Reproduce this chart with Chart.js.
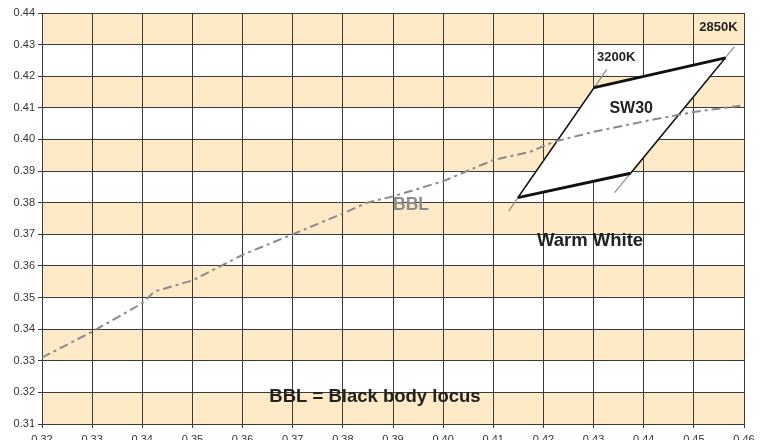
<!DOCTYPE html>
<html>
<head>
<meta charset="utf-8">
<script src="https://cdn.jsdelivr.net/npm/chart.js@4.4.1/dist/chart.umd.min.js"></script>
<style>
  html, body { margin: 0; padding: 0; background: #fff; overflow: hidden; }
  canvas { display: block; }
</style>
</head>
<body>
<canvas id="chart" width="760" height="450"></canvas>
<script>
// axis ticks
const xTicks = [0.32, 0.33, 0.34, 0.35, 0.36, 0.37, 0.38, 0.39, 0.40, 0.41, 0.42, 0.43, 0.44, 0.45, 0.46];
const yTicks = [0.31, 0.32, 0.33, 0.34, 0.35, 0.36, 0.37, 0.38, 0.39, 0.40, 0.41, 0.42, 0.43, 0.44];

// black body locus
const bblX = [0.320, 0.330, 0.340, 0.3424, 0.350, 0.360, 0.370, 0.380, 0.3848, 0.390, 0.400, 0.410, 0.4174, 0.4221, 0.430, 0.440, 0.450, 0.460];
const bblY = [0.3310, 0.3392, 0.3482, 0.3519, 0.3554, 0.3635, 0.3700, 0.3766, 0.3800, 0.3820, 0.3868, 0.3935, 0.3961, 0.3993, 0.4024, 0.4057, 0.4087, 0.4108];

// SW30 quadrangle corners: 3200K top, 2850K top, 2850K bottom, 3200K bottom
const sw30X = [0.4301, 0.4563, 0.4374, 0.4149, 0.4301];
const sw30Y = [0.4164, 0.4258, 0.3893, 0.3816, 0.4164];

// isotemperature lines
const iso3200X = [0.4131, 0.4326];
const iso3200Y = [0.3774, 0.4221];
const iso2850X = [0.4342, 0.4581];
const iso2850Y = [0.3832, 0.4294];

// text notes placed in data units
const noteText = ["2850K", "3200K", "SW30", "Warm White", "BBL", "BBL = Black body locus"];
const noteX = [0.4549, 0.4345, 0.4375, 0.4293, 0.3936, 0.3864];
const noteY = [0.4355, 0.4260, 0.4098, 0.3678, 0.3791, 0.3187];

const pts = (xs, ys) => xs.map((x, i) => ({ x: x, y: ys[i] }));
const edge = (a, b) => [{ x: sw30X[a], y: sw30Y[a] }, { x: sw30X[b], y: sw30Y[b] }];

const bandPlugin = {
  id: "bands",
  beforeDraw(chart) {
    const { ctx, chartArea, scales } = chart;
    ctx.save();
    ctx.fillStyle = "#ffeac8";
    for (let i = 0; i < yTicks.length - 1; i += 2) {
      const top = scales.y.getPixelForValue(yTicks[i + 1]);
      const bottom = scales.y.getPixelForValue(yTicks[i]);
      ctx.fillRect(chartArea.left, top, chartArea.right - chartArea.left, bottom - top);
    }
    ctx.restore();
  }
};

const noteStyles = [
  { font: "bold 13px 'Liberation Sans', Arial", color: "#222" },
  { font: "bold 13px 'Liberation Sans', Arial", color: "#222" },
  { font: "bold 16px 'Liberation Sans', Arial", color: "#222" },
  { font: "bold 18.5px 'Liberation Sans', Arial", color: "#222" },
  { font: "bold 17.5px 'Liberation Sans', Arial", color: "#8c8c8c" },
  { font: "bold 18.5px 'Liberation Sans', Arial", color: "#222" }
];

const notePlugin = {
  id: "notes",
  afterDatasetsDraw(chart) {
    const { ctx, scales } = chart;
    ctx.save();
    ctx.textAlign = "center";
    ctx.textBaseline = "middle";
    noteText.forEach((t, i) => {
      ctx.font = noteStyles[i].font;
      ctx.fillStyle = noteStyles[i].color;
      ctx.fillText(t, scales.x.getPixelForValue(noteX[i]), scales.y.getPixelForValue(noteY[i]));
    });
    ctx.restore();
  }
};

const tickFont = { family: "'Liberation Sans', Arial", size: 11 };
const lineSet = (data, color, width, extra) => Object.assign({
  data: data, borderColor: color, borderWidth: width, pointRadius: 0, fill: false
}, extra || {});

new Chart(document.getElementById("chart"), {
  type: "line",
  data: {
    datasets: [
      lineSet(pts(bblX, bblY), "#8a8a8a", 2, { borderDash: [9, 4, 3, 4] }),
      lineSet(edge(0, 1), "#111", 3),
      lineSet(edge(2, 3), "#111", 3),
      lineSet(edge(1, 2), "#111", 1.5),
      lineSet(edge(3, 4), "#111", 1.5),
      lineSet(pts(iso3200X, iso3200Y), "#8c8c8c", 1.2),
      lineSet(pts(iso2850X, iso2850Y), "#8c8c8c", 1.2),
      // white inside of the SW30 box
      lineSet(pts(sw30X, sw30Y), "rgba(0,0,0,0)", 0, { fill: "shape", backgroundColor: "#ffffff" })
    ]
  },
  options: {
    responsive: false,
    animation: false,
    devicePixelRatio: 1,
    layout: { padding: { top: 13, right: 16, left: 0, bottom: 0 } },
    plugins: {
      legend: { display: false },
      tooltip: { enabled: false },
      filler: { propagate: false }
    },
    scales: {
      x: {
        type: "linear",
        min: 0.32,
        max: 0.46,
        afterBuildTicks: s => { s.ticks = xTicks.map(v => ({ value: v })); },
        afterFit: s => { s.height = 26; },
        grid: { color: "#3a3a3a", lineWidth: 1, tickLength: 4 },
        border: { color: "#3a3a3a" },
        ticks: {
          color: "#333",
          font: tickFont,
          padding: 5,
          maxRotation: 0,
          autoSkip: false,
          callback: v => v.toFixed(2)
        }
      },
      y: {
        type: "linear",
        min: 0.31,
        max: 0.44,
        afterBuildTicks: s => { s.ticks = yTicks.map(v => ({ value: v })); },
        afterFit: s => { s.width = 42; },
        grid: { color: "#3a3a3a", lineWidth: 1, tickLength: 4 },
        border: { color: "#3a3a3a" },
        ticks: {
          color: "#333",
          font: tickFont,
          padding: 3,
          autoSkip: false,
          callback: v => v.toFixed(2)
        }
      }
    }
  },
  plugins: [bandPlugin, notePlugin]
});
</script>
</body>
</html>
